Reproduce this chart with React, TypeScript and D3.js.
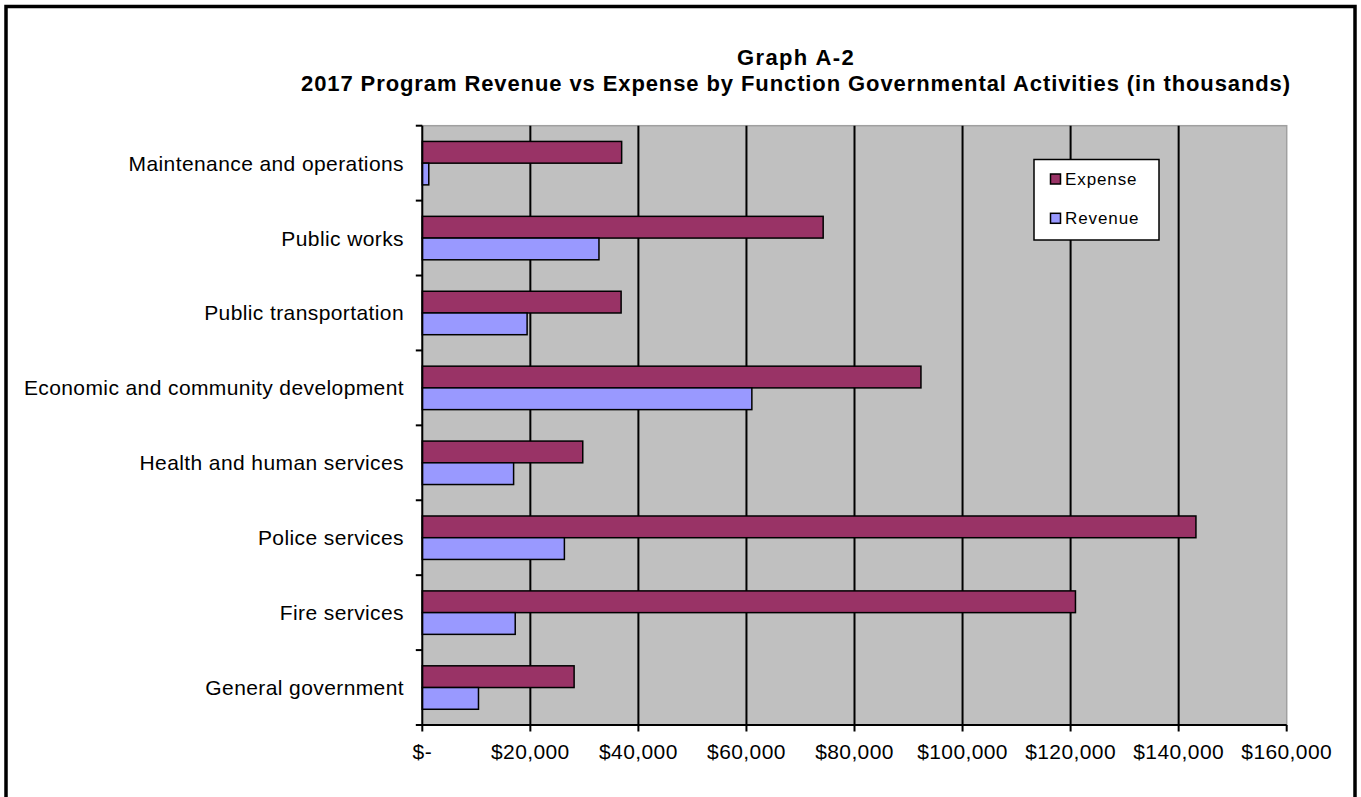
import React from "react";
import * as d3 from "d3";

const categories = [
  "Maintenance and operations",
  "Public works",
  "Public transportation",
  "Economic and community development",
  "Health and human services",
  "Police services",
  "Fire services",
  "General government",
];
const seriesNames = ["Expense", "Revenue"];
const expense = [36900, 74200, 36800, 92300, 29700, 143200, 120900, 28100];
const revenue = [1200, 32700, 19400, 61000, 16900, 26300, 17200, 10400];
const xTicks = [0, 20000, 40000, 60000, 80000, 100000, 120000, 140000, 160000];
const titleLine1 = "Graph A-2";
const titleLine2 = "2017 Program Revenue vs Expense by Function Governmental Activities (in thousands)";

const colors: Record<string, string> = { Expense: "#993366", Revenue: "#9999FF" };
const FONT = "'Liberation Sans', Arial, sans-serif";

export default function App() {
  const W = 1361, H = 797;
  const left = 422.3, right = 1286.7, top = 125.7, bottom = 725;
  const x = d3.scaleLinear().domain([0, 160000]).range([left, right]);
  const y = d3.scaleBand<string>().domain(categories).range([top, bottom]).paddingInner(0.42).paddingOuter(0.21);
  const ySub = d3.scaleBand<string>().domain(seriesNames).range([0, y.bandwidth()]);
  const step = (bottom - top) / categories.length;
  const fmt = d3.format(",");
  const tickLabel = (v: number) => (v === 0 ? "$-" : "$" + fmt(v));
  const values: Record<string, number[]> = { Expense: expense, Revenue: revenue };

  return (
    <div style={{ position: "fixed", left: 0, top: 0 }}>
      <svg width={W} height={H} style={{ display: "block", background: "#fff" }} fontFamily={FONT}>
        <rect x={6} y={6.5} width={1349} height={820} fill="#fff" stroke="#000" strokeWidth={3.5} />
        <text x={796} y={65} textAnchor="middle" fontSize={22} fontWeight="bold" letterSpacing={1.4}>{titleLine1}</text>
        <text x={796} y={90.5} textAnchor="middle" fontSize={22} fontWeight="bold" letterSpacing={0.9}>{titleLine2}</text>

        {/* plot area */}
        <rect x={left} y={top} width={right - left} height={bottom - top} fill="#C0C0C0" stroke="#a0a0a0" strokeWidth={1.5} />
        {xTicks.slice(1, -1).map((t) => (
          <line key={t} x1={x(t)} x2={x(t)} y1={top} y2={bottom} stroke="#000" strokeWidth={2} />
        ))}

        {/* bars */}
        {categories.map((c, i) =>
          seriesNames.map((s) => (
            <rect
              key={c + s}
              x={x(0)}
              y={(y(c) as number) + (ySub(s) as number)}
              width={x(values[s][i]) - x(0)}
              height={ySub.bandwidth()}
              fill={colors[s]}
              stroke="#000"
              strokeWidth={1.5}
            />
          ))
        )}

        {/* axes */}
        <line x1={left} x2={left} y1={top} y2={bottom} stroke="#000" strokeWidth={2} />
        <line x1={left} x2={right} y1={bottom} y2={bottom} stroke="#000" strokeWidth={2} />
        {d3.range(categories.length + 1).map((i) => (
          <line key={"yt" + i} x1={left - 6.5} x2={left} y1={top + i * step} y2={top + i * step} stroke="#000" strokeWidth={2} />
        ))}
        {xTicks.map((t) => (
          <g key={"xt" + t}>
            <line x1={x(t)} x2={x(t)} y1={bottom} y2={bottom + 6.5} stroke="#000" strokeWidth={2} />
            <text x={x(t)} y={759} textAnchor="middle" fontSize={21} letterSpacing={0.4}>{tickLabel(t)}</text>
          </g>
        ))}
        {categories.map((c) => (
          <text key={"l" + c} x={404} y={(y(c) as number) + y.bandwidth() / 2 + 7.5} textAnchor="end" fontSize={21} letterSpacing={0.4}>{c}</text>
        ))}

        {/* legend */}
        <rect x={1034} y={159.5} width={125} height={80.5} fill="#fff" stroke="#000" strokeWidth={1.5} />
        {seriesNames.map((s, i) => (
          <g key={"lg" + s}>
            <rect x={1050.5} y={174 + i * 39.3} width={10} height={10} fill={colors[s]} stroke="#000" strokeWidth={1.5} />
            <text x={1065} y={185 + i * 39.3} fontSize={17} letterSpacing={0.9}>{s}</text>
          </g>
        ))}
      </svg>
    </div>
  );
}
